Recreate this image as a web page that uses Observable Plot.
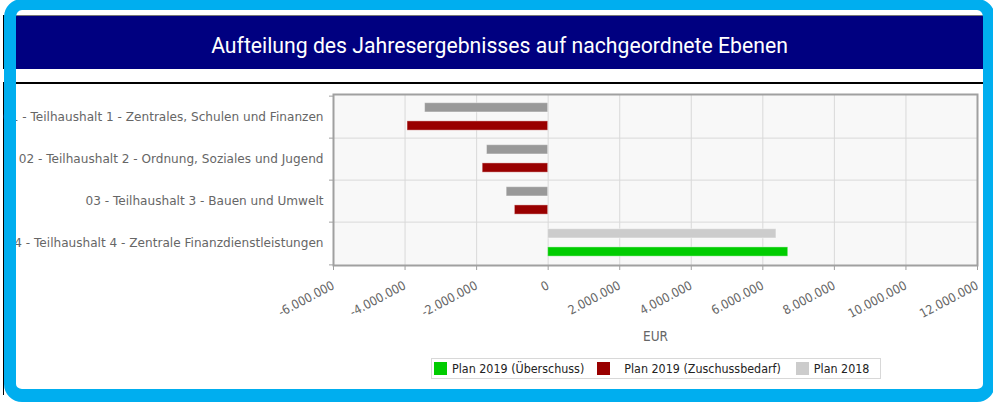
<!DOCTYPE html>
<html>
<head>
<meta charset="utf-8">
<script src="https://cdn.jsdelivr.net/npm/d3@7"></script>
<script src="https://cdn.jsdelivr.net/npm/@observablehq/plot@0.6"></script>
<style>
  html, body { margin: 0; padding: 0; background: #fff; }
  body { width: 993px; height: 402px; position: relative; overflow: hidden; }
  #topline { position: absolute; left: 3px; top: 15px; width: 980px; height: 1px; background: #777; }
  #band { position: absolute; left: 3px; top: 16px; width: 980px; height: 53px; background: #000080;
          color: #fff; font-family: Roboto, "Noto Sans", sans-serif; font-size: 21.2px;
          box-sizing: border-box; padding-top: 5px; padding-left: 13px;
          display: flex; align-items: center; justify-content: center; }
  #blackline { position: absolute; left: 3px; top: 82px; width: 980px; height: 1.5px; background: #000; }
  #vline1 { position: absolute; left: 3px; top: 15px; width: 1px; height: 54px; background: #000; }
  #vline2 { position: absolute; left: 3px; top: 83px; width: 1px; height: 312px; background: #000; }
  #chart { position: absolute; left: 0; top: 84px; }
  #legend { position: absolute; left: 431px; top: 358px; width: 448px; height: 19px;
            border: 1px solid #d8d8d8; display: flex; align-items: center;
            font-family: "DejaVu Sans Condensed", sans-serif; font-size: 12.4px; color: #222; }
  #legend .sw { width: 13px; height: 13px; flex: none; }
  #legend span { white-space: nowrap; }
  #frame { position: absolute; left: 4px; top: -1px; right: -2px; bottom: 0px;
           border-style: solid; border-color: #00AEEF; border-width: 11px 12px 13px 12px;
           border-radius: 18px; pointer-events: none; }
  #chart svg text { fill: #666; }
  #chart g[aria-label="y-axis tick label"] text { font-family: "DejaVu Sans", sans-serif; font-size: 12.1px; }
  #chart g[aria-label="x-axis tick label"] text { font-family: "DejaVu Sans Condensed", sans-serif; font-size: 12.5px; }
</style>
</head>
<body>
<div id="topline"></div>
<div id="band">Aufteilung des Jahresergebnisses auf nachgeordnete Ebenen</div>
<div id="blackline"></div>
<div id="vline1"></div>
<div id="vline2"></div>
<div id="chart"></div>
<div id="legend"></div>
<div id="frame"></div>
<script>
// ---- data ----
const categories = [
  "01 - Teilhaushalt 1 - Zentrales, Schulen und Finanzen",
  "02 - Teilhaushalt 2 - Ordnung, Soziales und Jugend",
  "03 - Teilhaushalt 3 - Bauen und Umwelt",
  "04 - Teilhaushalt 4 - Zentrale Finanzdienstleistungen"
];
const plan2019 = [-3930000, -1830000, -930000, 6710000];
const plan2018 = [-3440000, -1710000, -1160000, 6380000];
const xTicks = [-6000000, -4000000, -2000000, 0, 2000000, 4000000, 6000000, 8000000, 10000000, 12000000];
const legendLabels = ["Plan 2019 (Überschuss)", "Plan 2019 (Zuschussbedarf)", "Plan 2018"];
const axisTitle = "EUR";

// ---- styles ----
const GREEN = "#00cc00", RED = "#990000", GRAY_NEG = "#999999", GRAY_POS = "#cccccc";
const legendColors = [GREEN, RED, GRAY_POS];

const rows = categories.map((c, i) => ({category: c, p2019: plan2019[i], p2018: plan2018[i]}));
const de = d3.formatLocale({decimal: ",", thousands: ".", grouping: [3], currency: ["", " €"], minus: "-"});
const fmt = de.format(",d");

const plotTop = 10, plotH = 171;
const half = plotH / categories.length / 2;
const step = plotH / categories.length;

const chart = Plot.plot({
  width: 983,
  height: 261,
  marginLeft: 333,
  marginRight: 6,
  marginTop: plotTop,
  marginBottom: 80,
  style: {background: "transparent", overflow: "visible"},
  x: {domain: [-6000000, 12000000]},
  y: {domain: categories, padding: 0},
  marks: [
    Plot.frame({fill: "#f8f8f8", stroke: null}),
    Plot.gridX(xTicks, {stroke: "#d9d9d9", strokeOpacity: 1}),
    Plot.ruleY(categories.slice(1), {dy: -half, stroke: "#d9d9d9"}),
    Plot.barX(rows, {x1: 0, x2: "p2018", y: "category",
      fill: d => d.p2018 < 0 ? GRAY_NEG : GRAY_POS,
      stroke: "#ffffff", strokeOpacity: 0.4, strokeWidth: 1,
      insetTop: 6.7, insetBottom: step - 16.7}),
    Plot.barX(rows, {x1: 0, x2: "p2019", y: "category",
      fill: d => d.p2019 < 0 ? RED : GREEN,
      stroke: "#ffffff", strokeOpacity: 0.4, strokeWidth: 1,
      insetTop: 24.9, insetBottom: step - 34.9}),
    Plot.frame({stroke: "#a0a0a0", strokeWidth: 2}),
    Plot.ruleY(categories, {x1: -6000000, x2: -6000000, insetLeft: -4, dy: -half, stroke: "#a0a0a0"}),
    Plot.ruleY(categories.slice(-1), {x1: -6000000, x2: -6000000, insetLeft: -4, dy: half, stroke: "#a0a0a0"}),
    Plot.axisX({ticks: xTicks, tickFormat: fmt, tickRotate: -28, tickSize: 5, tickPadding: 14,
      stroke: "#a0a0a0", label: null}),
    Plot.axisY({tickSize: 0, tickPadding: 10, label: null}),
    Plot.text([axisTitle], {frameAnchor: "bottom", dy: 75, text: d => d,
      fontFamily: "DejaVu Sans Condensed, sans-serif", fontSize: 13.5, fill: "#555"})
  ]
});
document.getElementById("chart").appendChild(chart);

// ---- legend ----
const legend = document.getElementById("legend");
const gaps = [[2, 5], [13, 14], [15, 5]];
legendLabels.forEach((lab, i) => {
  const sw = document.createElement("div");
  sw.className = "sw";
  sw.style.background = legendColors[i];
  sw.style.marginLeft = gaps[i][0] + "px";
  const t = document.createElement("span");
  t.textContent = lab;
  t.style.marginLeft = gaps[i][1] + "px";
  legend.appendChild(sw);
  legend.appendChild(t);
});
</script>
</body>
</html>
